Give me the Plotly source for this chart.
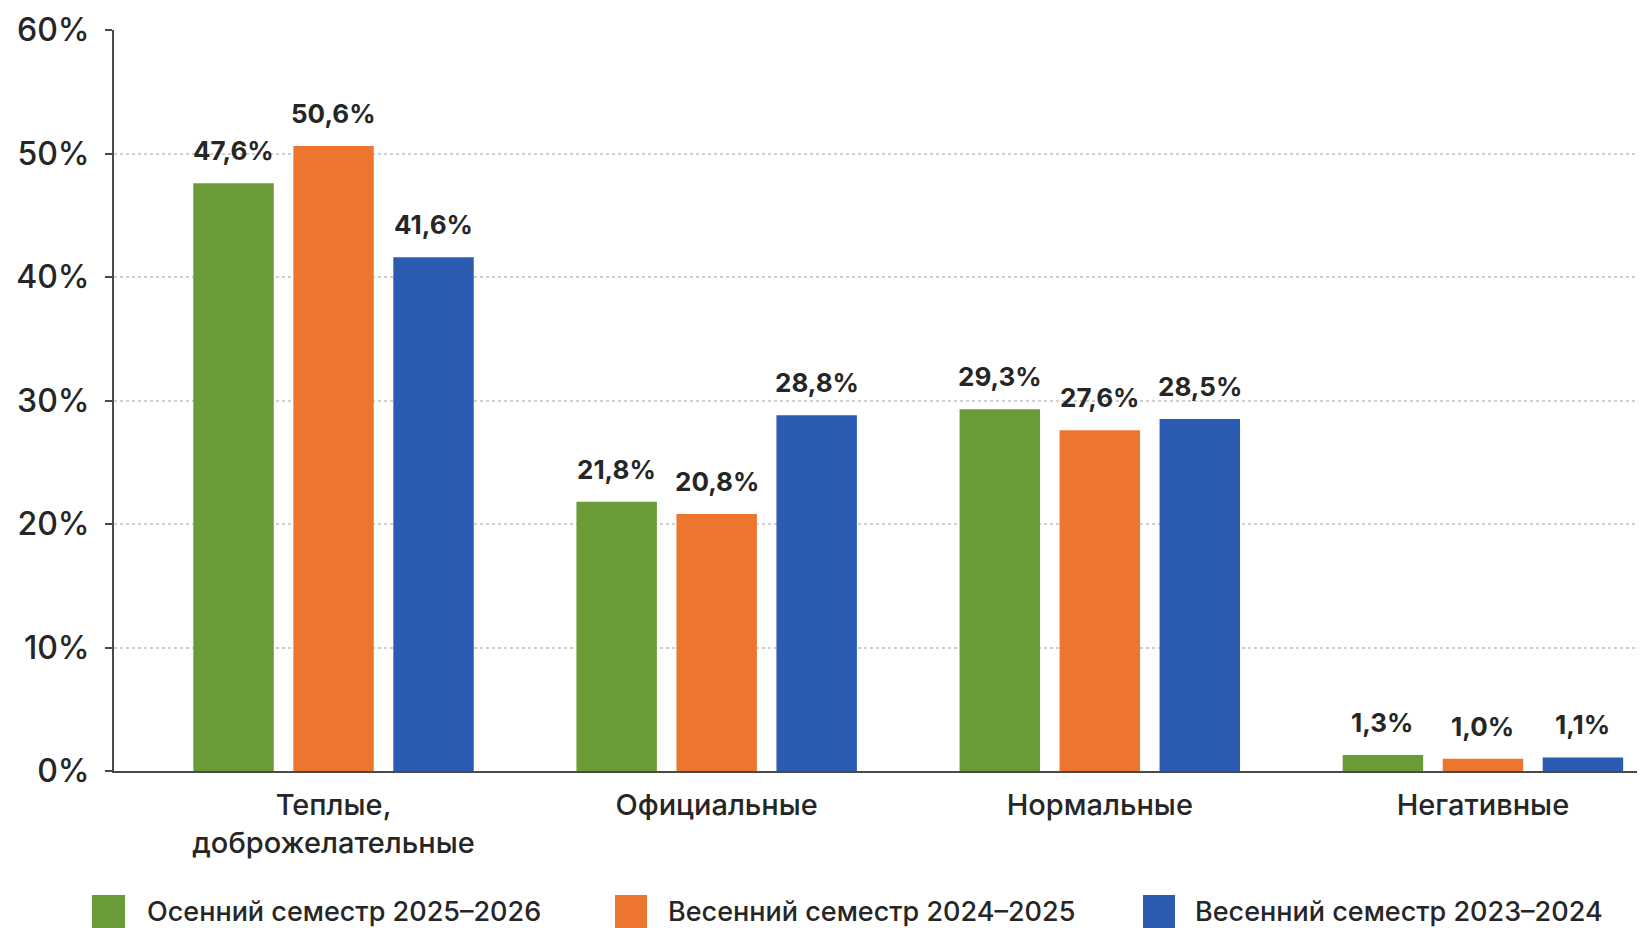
import plotly.graph_objects as go

categories = ["Теплые,<br>доброжелательные", "Официальные", "Нормальные", "Негативные"]
series_names = ["Осенний семестр 2025–2026", "Весенний семестр 2024–2025", "Весенний семестр 2023–2024"]
autumn_2025 = [47.6, 21.8, 29.3, 1.3]
spring_2024 = [50.6, 20.8, 27.6, 1.0]
spring_2023 = [41.6, 28.8, 28.5, 1.1]
y_ticks = [0, 10, 20, 30, 40, 50, 60]

series_values = [autumn_2025, spring_2024, spring_2023]
colors = ["#6B9B37", "#EC7630", "#2B5CB2"]

# page body has an 8px margin; layout is designed in viewport pixels and shifted
OFF = 8
VW, VH = 1645, 928
W, H = VW - OFF, VH - OFF
L, T = 114 - OFF, 30 - OFF
B = H - (771 - OFF)
R = 0
STEP = 0.261
BAR_W = 0.21
FONT = "Inter"
TXT = "#262626"

fig = go.Figure()
for j, (name, vals, col) in enumerate(zip(series_names, series_values, colors)):
    xs = [i + (j - 1) * STEP for i in range(len(categories))]
    fig.add_trace(go.Bar(
        x=xs, y=vals, width=BAR_W, name=name, marker=dict(color=col, line=dict(width=0)),
        showlegend=False, hoverinfo="y",
    ))
    for x, v in zip(xs, vals):
        fig.add_annotation(
            x=x, y=v, xref="x", yref="y", text=f"{v:.1f}".replace(".", ",") + "%",
            showarrow=False, yanchor="bottom", yshift=15,
            font=dict(family=FONT, size=26, color=TXT, weight=700),
        )

# manual legend (big squares), positions given in viewport pixels
pw = W - L - R
ph = H - T - B
def px_x(p):
    return (p - OFF - L) / pw
def px_y(p):
    return (H - B - (p - OFF)) / ph

legend_sq = [(92, 125), (615, 647), (1143, 1175)]
legend_txt_x = [145, 666, 1193]
for (x0, x1), tx, name, col in zip(legend_sq, legend_txt_x, series_names, colors):
    fig.add_shape(type="rect", xref="paper", yref="paper",
                  x0=px_x(x0), x1=px_x(x1), y0=px_y(895), y1=px_y(931),
                  fillcolor=col, line=dict(width=0), layer="above")
    fig.add_annotation(xref="paper", yref="paper", x=px_x(tx), y=px_y(911),
                       xanchor="left", yanchor="middle", text=name, showarrow=False,
                       font=dict(family=FONT, size=27, color=TXT, weight=500))

fig.update_layout(
    width=W, height=H,
    margin=dict(l=L, r=R, t=T, b=B, pad=0),
    paper_bgcolor="white", plot_bgcolor="white",
    barmode="overlay",
    showlegend=False,
    font=dict(family=FONT, color=TXT),
)
fig.update_xaxes(
    range=[-0.573, 3.423],
    tickmode="array", tickvals=list(range(len(categories))), ticktext=categories,
    tickfont=dict(family=FONT, size=29, color=TXT, weight=500),
    ticks="", ticklabelstandoff=7,
    showgrid=False, zeroline=False,
    showline=True, linecolor="#4a4a4a", linewidth=2,
)
fig.update_yaxes(
    range=[0, 60], tickmode="array", tickvals=y_ticks,
    ticktext=[f"{t}%" for t in y_ticks],
    tickfont=dict(family=FONT, size=32, color=TXT, weight=500),
    ticks="outside", ticklen=7, tickwidth=1.5, tickcolor="#4a4a4a",
    ticklabelstandoff=9,
    showgrid=True, gridcolor="#cfcfcf", gridwidth=1.5, griddash="dot",
    zeroline=False,
    showline=True, linecolor="#4a4a4a", linewidth=2,
)

fig.write_html("out.html")
